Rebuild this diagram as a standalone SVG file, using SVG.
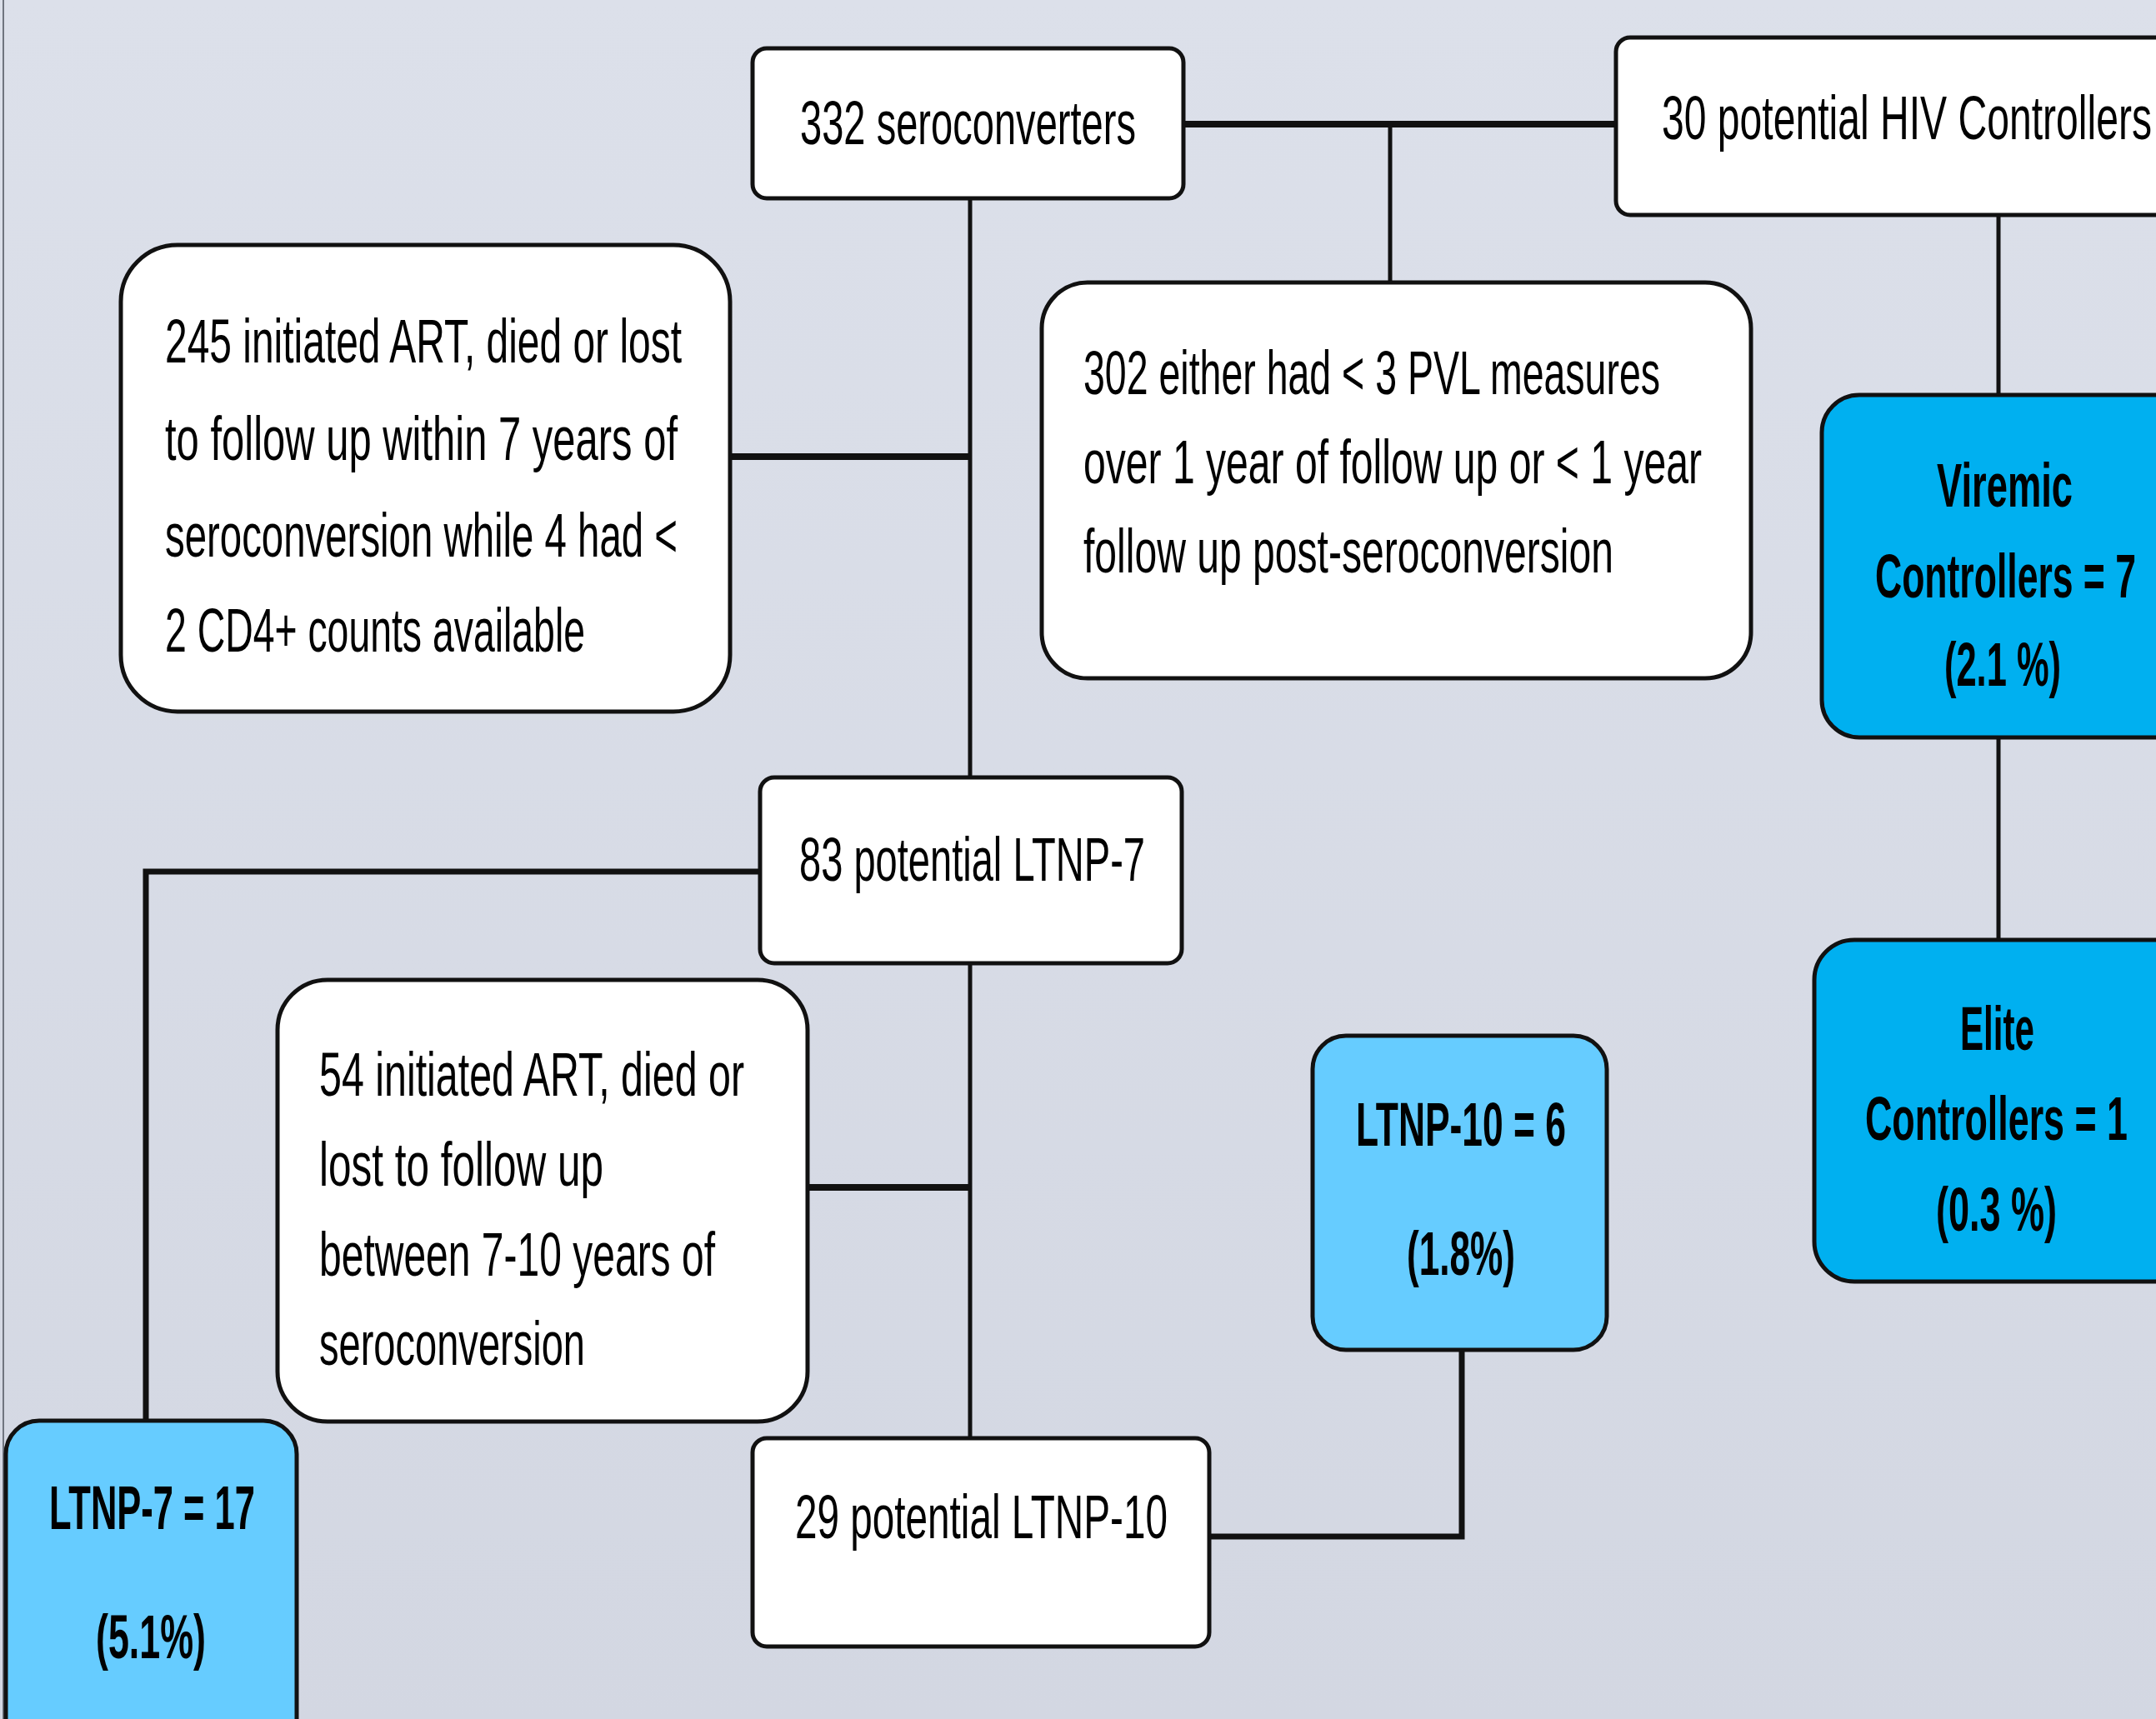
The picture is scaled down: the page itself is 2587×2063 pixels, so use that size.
<svg xmlns="http://www.w3.org/2000/svg" width="2587" height="2063" viewBox="0 0 2587 2063">
<defs>
<linearGradient id="bg" x1="0" y1="0" x2="0" y2="1">
<stop offset="0" stop-color="#dce0ea"/>
<stop offset="1" stop-color="#d3d7e2"/>
</linearGradient>
<style>
.box{fill:#ffffff;stroke:#111111;stroke-width:5}
.dark{fill:#00b0f0;stroke:#111111;stroke-width:5}
.light{fill:#66ccff;stroke:#111111;stroke-width:5}
.t{font-family:"Liberation Sans",Arial,sans-serif;font-size:74px;fill:#000000}
.b{font-family:"Liberation Sans",Arial,sans-serif;font-size:74px;font-weight:bold;fill:#000000}
.h{stroke:#111111;stroke-width:8;fill:none}
.v{stroke:#111111;stroke-width:5;fill:none}
</style>
</defs>
<rect x="0" y="0" width="2587" height="2063" fill="url(#bg)"/>
<line x1="4" y1="0" x2="4" y2="2063" stroke="#70757f" stroke-width="2"/>

<g id="connectors">
<line class="h" x1="1420" y1="149" x2="1939" y2="149"/>
<line class="v" x1="1668" y1="149" x2="1668" y2="339"/>
<line class="v" x1="1164" y1="238" x2="1164" y2="933"/>
<line class="h" x1="876" y1="548" x2="1164" y2="548"/>
<polyline class="h" points="912,1046 175,1046 175,1705" style="stroke-width:7"/>
<line class="v" x1="1164" y1="1156" x2="1164" y2="1726"/>
<line class="h" x1="969" y1="1425" x2="1164" y2="1425"/>
<polyline class="h" points="1451,1844 1754,1844 1754,1620" style="stroke-width:7"/>
<line class="v" x1="2398" y1="258" x2="2398" y2="474"/>
<line class="v" x1="2398" y1="885" x2="2398" y2="1128"/>
</g>

<g id="n332">
<rect class="box" x="903" y="58" width="517" height="180" rx="17"/>
<text class="t" x="960" y="173" textLength="403" lengthAdjust="spacingAndGlyphs">332 seroconverters</text>
</g>

<g id="n30">
<rect class="box" x="1939" y="45" width="720" height="213" rx="17"/>
<text class="t" x="1994" y="167" textLength="588" lengthAdjust="spacingAndGlyphs">30 potential HIV Controllers</text>
</g>

<g id="n245">
<rect class="box" x="145" y="294" width="731" height="560" rx="68"/>
<text class="t" x="198" y="435" textLength="620" lengthAdjust="spacingAndGlyphs">245 initiated ART, died or lost</text>
<text class="t" x="198" y="552" textLength="615" lengthAdjust="spacingAndGlyphs">to follow up within 7 years of</text>
<text class="t" x="198" y="668" textLength="615" lengthAdjust="spacingAndGlyphs">seroconversion while 4 had &lt;</text>
<text class="t" x="198" y="782" textLength="504" lengthAdjust="spacingAndGlyphs">2 CD4+ counts available</text>
</g>

<g id="n302">
<rect class="box" x="1250" y="339" width="851" height="475" rx="55"/>
<text class="t" x="1300" y="473" textLength="692" lengthAdjust="spacingAndGlyphs">302 either had &lt; 3 PVL measures</text>
<text class="t" x="1300" y="580" textLength="742" lengthAdjust="spacingAndGlyphs">over 1 year of follow up or &lt; 1 year</text>
<text class="t" x="1300" y="687" textLength="636" lengthAdjust="spacingAndGlyphs">follow up post-seroconversion</text>
</g>

<g id="nViremic">
<rect class="dark" x="2186" y="474" width="500" height="411" rx="45"/>
<text class="b" x="2324" y="608" textLength="163" lengthAdjust="spacingAndGlyphs">Viremic</text>
<text class="b" x="2250" y="717" textLength="313" lengthAdjust="spacingAndGlyphs">Controllers = 7</text>
<text class="b" x="2333" y="823" textLength="140" lengthAdjust="spacingAndGlyphs">(2.1 %)</text>
</g>

<g id="n83">
<rect class="box" x="912" y="933" width="506" height="223" rx="17"/>
<text class="t" x="959" y="1057" textLength="415" lengthAdjust="spacingAndGlyphs">83 potential LTNP-7</text>
</g>

<g id="nElite">
<rect class="dark" x="2177" y="1128" width="500" height="410" rx="48"/>
<text class="b" x="2352" y="1260" textLength="89" lengthAdjust="spacingAndGlyphs">Elite</text>
<text class="b" x="2238" y="1368" textLength="315" lengthAdjust="spacingAndGlyphs">Controllers = 1</text>
<text class="b" x="2323" y="1477" textLength="145" lengthAdjust="spacingAndGlyphs">(0.3 %)</text>
</g>

<g id="n54">
<rect class="box" x="333" y="1176" width="636" height="530" rx="60"/>
<text class="t" x="383" y="1315" textLength="510" lengthAdjust="spacingAndGlyphs">54 initiated ART, died or</text>
<text class="t" x="383" y="1423" textLength="341" lengthAdjust="spacingAndGlyphs">lost to follow up</text>
<text class="t" x="383" y="1531" textLength="475" lengthAdjust="spacingAndGlyphs">between 7-10 years of</text>
<text class="t" x="383" y="1638" textLength="319" lengthAdjust="spacingAndGlyphs">seroconversion</text>
</g>

<g id="nLTNP10">
<rect class="light" x="1575" y="1243" width="353" height="377" rx="40"/>
<text class="b" x="1627" y="1375" textLength="252" lengthAdjust="spacingAndGlyphs">LTNP-10 = 6</text>
<text class="b" x="1688" y="1530" textLength="130" lengthAdjust="spacingAndGlyphs">(1.8%)</text>
</g>

<g id="n29">
<rect class="box" x="903" y="1726" width="548" height="250" rx="17"/>
<text class="t" x="954" y="1846" textLength="447" lengthAdjust="spacingAndGlyphs">29 potential LTNP-10</text>
</g>

<g id="nLTNP7">
<rect class="light" x="7" y="1705" width="349" height="500" rx="40"/>
<text class="b" x="59" y="1835" textLength="247" lengthAdjust="spacingAndGlyphs">LTNP-7 = 17</text>
<text class="b" x="115" y="1990" textLength="132" lengthAdjust="spacingAndGlyphs">(5.1%)</text>
</g>
</svg>
